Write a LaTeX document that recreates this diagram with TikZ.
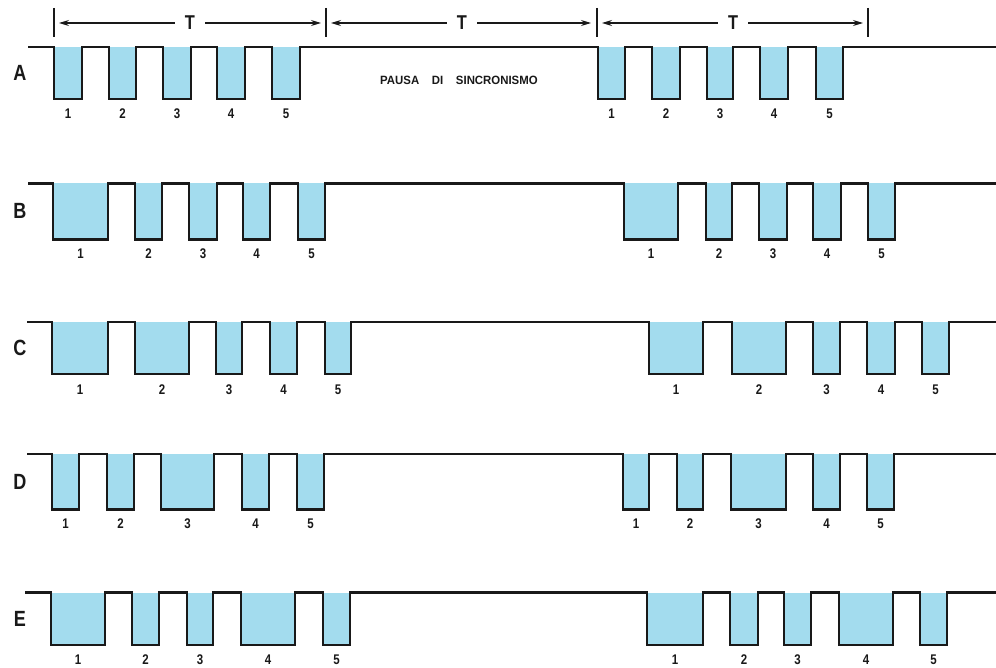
\documentclass[tikz,border=0pt]{standalone}
\usepackage{fontspec}
\setmainfont{Liberation Sans}[FakeStretch=0.82]
\newfontfamily\notefont{Liberation Sans}[FakeStretch=0.95]
\usetikzlibrary{arrows.meta}
\definecolor{pulse}{RGB}{163,220,238}
\definecolor{ink}{RGB}{25,25,25}
\tikzset{
  sig/.style={draw=ink,line width=2.4pt,line join=miter,line cap=butt},
  pfill/.style={fill=pulse,draw=none},
  row/.style={font=\bfseries\fontsize{22}{22}\selectfont,text=ink,inner sep=0pt},
  num/.style={font=\bfseries\fontsize{14}{14}\selectfont,text=ink,inner sep=0pt},
  tlab/.style={font=\bfseries\fontsize{20}{20}\selectfont,text=ink,inner sep=0pt},
  tick/.style={draw=ink,line width=1.1pt},
  dim/.style={draw=ink,line width=1.1pt,-{Stealth[length=10pt,width=6pt]}},
  note/.style={font=\notefont\bfseries\fontsize{12}{12}\selectfont,text=ink,inner sep=0pt}
}
% \sigrow{name}{start x}{top y}{bottom y}{label y}{pulse list}
\newcommand{\sigrow}[6]{%
  \foreach \a/\b in {#6}{\fill[pfill] (\a,-#3) rectangle (\b,-#4);}
  \draw[sig] (#2,-#3)
    \foreach \a/\b in {#6}{ -- (\a,-#3) -- (\a,-#4) -- (\b,-#4) -- (\b,-#3)} -- (996,-#3);
  \foreach \a/\b [count=\i from 1] in {#6}{%
    \pgfmathtruncatemacro{\k}{\i>5 ? \i-5 : \i}%
    \node[num] (#1p\i) at ({(\a+\b)/2},-#5) {\k};}
}
\begin{document}
\begin{tikzpicture}[x=1pt,y=1pt]
\useasboundingbox (0,0) rectangle (996,-668);
\fill[white] (0,0) rectangle (996,-668);
% period marks
\coordinate (k1) at (54,-23); \coordinate (k2) at (326,-23);
\coordinate (k3) at (597,-23); \coordinate (k4) at (868,-23);
\foreach \x in {54,326,597,868}{\draw[tick] (\x,-8) -- (\x,-37);}
\node[tlab] (T1) at (190,-23) {T};
\node[tlab] (T2) at (462,-23) {T};
\node[tlab] (T3) at (733,-23) {T};
\draw[dim] (T1.west) ++(-10,0) -- ([xshift=5pt]k1);
\draw[dim] (T1.east) ++(10,0) -- ([xshift=-5pt]k2);
\draw[dim] (T2.west) ++(-10,0) -- ([xshift=5pt]k2);
\draw[dim] (T2.east) ++(10,0) -- ([xshift=-6pt]k3);
\draw[dim] (T3.west) ++(-10,0) -- ([xshift=5pt]k3);
\draw[dim] (T3.east) ++(10,0) -- ([xshift=-5pt]k4);
% row letters
\node[row] (LA) at (20,-73) {A};
\node[row] (LB) at (20,-211) {B};
\node[row] (LC) at (20,-348) {C};
\node[row] (LD) at (20,-482) {D};
\node[row] (LE) at (20,-619) {E};
\node[note,anchor=west] (pausa) at (380,-80) {PAUSA\ \ \ \ DI\ \ \ \ SINCRONISMO};
% rows
\sigrow{A}{28}{47}{99}{114}{54/82,109/136,163/191,217/245,272/300,598/625,652/680,707/733,760/788,816/843}
\sigrow{B}{28}{183.5}{239.5}{254}{53/108,135/162,189/217,243/270,298/325,624/678,706/732,759/787,813/841,868/895}
\sigrow{C}{27}{322}{374}{390}{52/108,135/189,216/242,270/297,325/351,649/703,732/786,813/840,867/895,922/949}
\sigrow{D}{27}{454}{509.5}{524}{52/79,107/134,161/214,242/269,297/324,623/649,677/703,731/786,813/840,867/894}
\sigrow{E}{25}{592.5}{645}{660}{51/105,132/159,187/213,241/295,323/350,647/703,730/758,784/811,839/893,920/947}
\end{tikzpicture}
\end{document}
